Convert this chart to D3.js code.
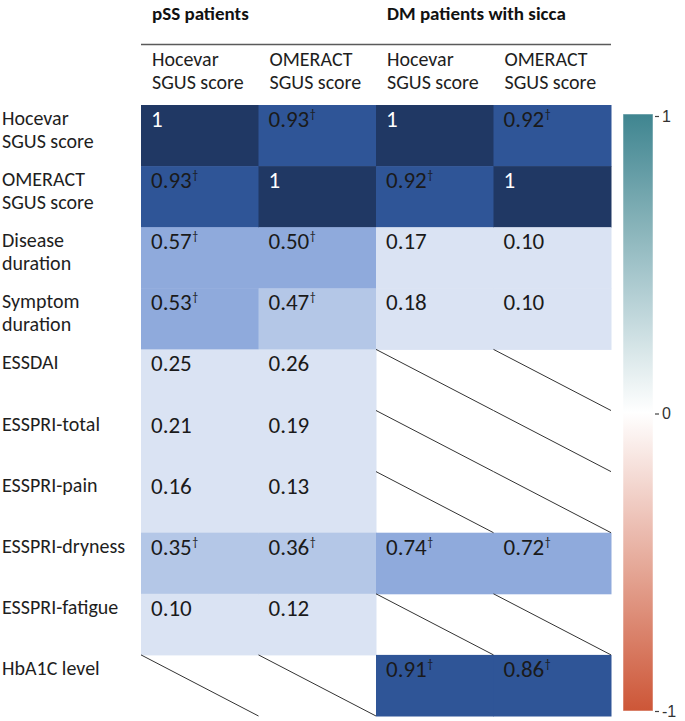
<!DOCTYPE html>
<html>
<head>
<meta charset="utf-8">
<script src="https://cdn.jsdelivr.net/npm/d3@7"></script>
<style>
  html, body { margin: 0; padding: 0; background: #fff; }
  svg { display: block; }
</style>
</head>
<body>
<svg id="chart" width="685" height="721"></svg>
<script>
// ---------- data ----------
const groupLabels = ["pSS patients", "DM patients with sicca"];
const columnLabels = [
  ["Hocevar", "SGUS score"], ["OMERACT", "SGUS score"],
  ["Hocevar", "SGUS score"], ["OMERACT", "SGUS score"]
];
const rowLabels = [
  ["Hocevar", "SGUS score"], ["OMERACT", "SGUS score"],
  ["Disease", "duration"], ["Symptom", "duration"],
  ["ESSDAI"], ["ESSPRI-total"], ["ESSPRI-pain"],
  ["ESSPRI-dryness"], ["ESSPRI-fatigue"], ["HbA1C level"]
];
// null = not applicable (diagonal line)
const pssHocevar = [1, 0.93, 0.57, 0.53, 0.25, 0.21, 0.16, 0.35, 0.10, null];
const pssOmeract = [0.93, 1, 0.50, 0.47, 0.26, 0.19, 0.13, 0.36, 0.12, null];
const dmHocevar  = [1, 0.92, 0.17, 0.18, null, null, null, 0.74, null, 0.91];
const dmOmeract  = [0.92, 1, 0.10, 0.10, null, null, null, 0.72, null, 0.86];
// significance (dagger)
const pssHocevarSig = [0, 1, 1, 1, 0, 0, 0, 1, 0, 0];
const pssOmeractSig = [1, 0, 1, 1, 0, 0, 0, 1, 0, 0];
const dmHocevarSig  = [0, 1, 0, 0, 0, 0, 0, 1, 0, 1];
const dmOmeractSig  = [1, 0, 0, 0, 0, 0, 0, 1, 0, 1];
const legendTicks = [1, 0, -1];

const series = [pssHocevar, pssOmeract, dmHocevar, dmOmeract];
const sigs = [pssHocevarSig, pssOmeractSig, dmHocevarSig, dmOmeractSig];

const cells = [];
series.forEach((s, c) => s.forEach((v, r) => cells.push({c, r, v, sig: sigs[c][r]})));

// ---------- layout ----------
const FONT = "Carlito, Lato, sans-serif";
const svg = d3.select("#chart");

const x = d3.scaleBand().domain(d3.range(4)).range([141, 611]);
const y = d3.scaleBand().domain(d3.range(10)).range([105, 716]);

const fill = d3.scaleThreshold()
  .domain([0.3, 0.5, 0.8, 0.999])
  .range(["#dae3f3", "#b4c7e7", "#8faadc", "#2f5597", "#203864"]);

// header group labels
svg.append("g").selectAll("text").data(groupLabels).join("text")
  .attr("x", (d, i) => x(i * 2) + 11)
  .attr("y", 19.5)
  .attr("font-family", FONT).attr("font-weight", "bold").attr("font-size", 19)
  .attr("fill", "#111")
  .text(d => d);

svg.append("line")
  .attr("x1", x(0)).attr("x2", x(3) + x.bandwidth())
  .attr("y1", 44.5).attr("y2", 44.5)
  .attr("stroke", "#5a5a5a").attr("stroke-width", 1.5);

// column labels
const colG = svg.append("g").selectAll("text").data(columnLabels).join("text")
  .attr("font-family", FONT).attr("font-size", 20).attr("fill", "#1e1e1e");
colG.selectAll("tspan").data((d, i) => d.map(t => ({t, i}))).join("tspan")
  .attr("x", d => x(d.i) + 11)
  .attr("y", (d, j) => 66 + j * 23)
  .text(d => d.t);

// row labels
const rowG = svg.append("g").selectAll("text").data(rowLabels).join("text")
  .attr("font-family", FONT).attr("font-size", 20).attr("fill", "#1e1e1e");
rowG.selectAll("tspan").data((d, i) => d.map(t => ({t, i}))).join("tspan")
  .attr("x", 2)
  .attr("y", (d, j) => y(d.i) + 20 + j * 23)
  .text(d => d.t);

// cells
const cellG = svg.append("g");
cellG.selectAll("rect").data(cells.filter(d => d.v !== null)).join("rect")
  .attr("x", d => x(d.c)).attr("y", d => y(d.r))
  .attr("width", x.bandwidth() + 0.5).attr("height", y.bandwidth() + 0.5)
  .attr("fill", d => fill(d.v));

cellG.selectAll("line").data(cells.filter(d => d.v === null)).join("line")
  .attr("x1", d => x(d.c)).attr("y1", d => y(d.r))
  .attr("x2", d => x(d.c) + x.bandwidth()).attr("y2", d => y(d.r) + y.bandwidth())
  .attr("stroke", "#333").attr("stroke-width", 1);

const vt = cellG.selectAll("text.val").data(cells.filter(d => d.v !== null)).join("text")
  .attr("class", "val")
  .attr("x", d => x(d.c) + 10)
  .attr("y", d => y(d.r) + 22)
  .attr("font-family", FONT).attr("font-size", 23)
  .attr("fill", d => d.v >= 0.999 ? "#ffffff" : "#1a1a1a");
vt.append("tspan").text(d => d.v >= 0.999 ? "1" : d.v.toFixed(2));
vt.filter(d => d.sig).append("tspan")
  .attr("font-size", 12).attr("dy", -9).attr("dx", 0.5)
  .text("\u2020");

// ---------- colour bar ----------
const cbScale = d3.scaleLinear().domain([-1, 1]).range([711, 116]);
const cbColor = d3.scaleLinear().domain([-1, 0, 1])
  .range(["#cd5637", "#ffffff", "#3f8590"]);

const defs = svg.append("defs");
const grad = defs.append("linearGradient").attr("id", "cbgrad")
  .attr("x1", 0).attr("x2", 0).attr("y1", 1).attr("y2", 0);
grad.selectAll("stop").data(d3.range(-1, 1.0001, 0.1)).join("stop")
  .attr("offset", d => (d + 1) / 2)
  .attr("stop-color", d => cbColor(d));

svg.append("rect")
  .attr("x", 623).attr("y", cbScale(1) - 2)
  .attr("width", 30).attr("height", cbScale(-1) - cbScale(1) + 2)
  .attr("fill", "url(#cbgrad)")
  .attr("stroke", "rgba(255,255,255,0.5)").attr("stroke-width", 1);

const axis = d3.axisRight(cbScale).tickValues(legendTicks).tickSize(4).tickPadding(3)
  .tickFormat(d => d < 0 ? "-" + Math.abs(d) : String(d));
const ag = svg.append("g").attr("transform", "translate(655,0)").call(axis);
ag.select(".domain").remove();
ag.selectAll(".tick line").attr("stroke", "#444").attr("stroke-width", 1.2);
ag.selectAll(".tick text").attr("font-family", "Liberation Sans, Arial, sans-serif")
  .attr("font-size", 16).attr("fill", "#333");
</script>
</body>
</html>
